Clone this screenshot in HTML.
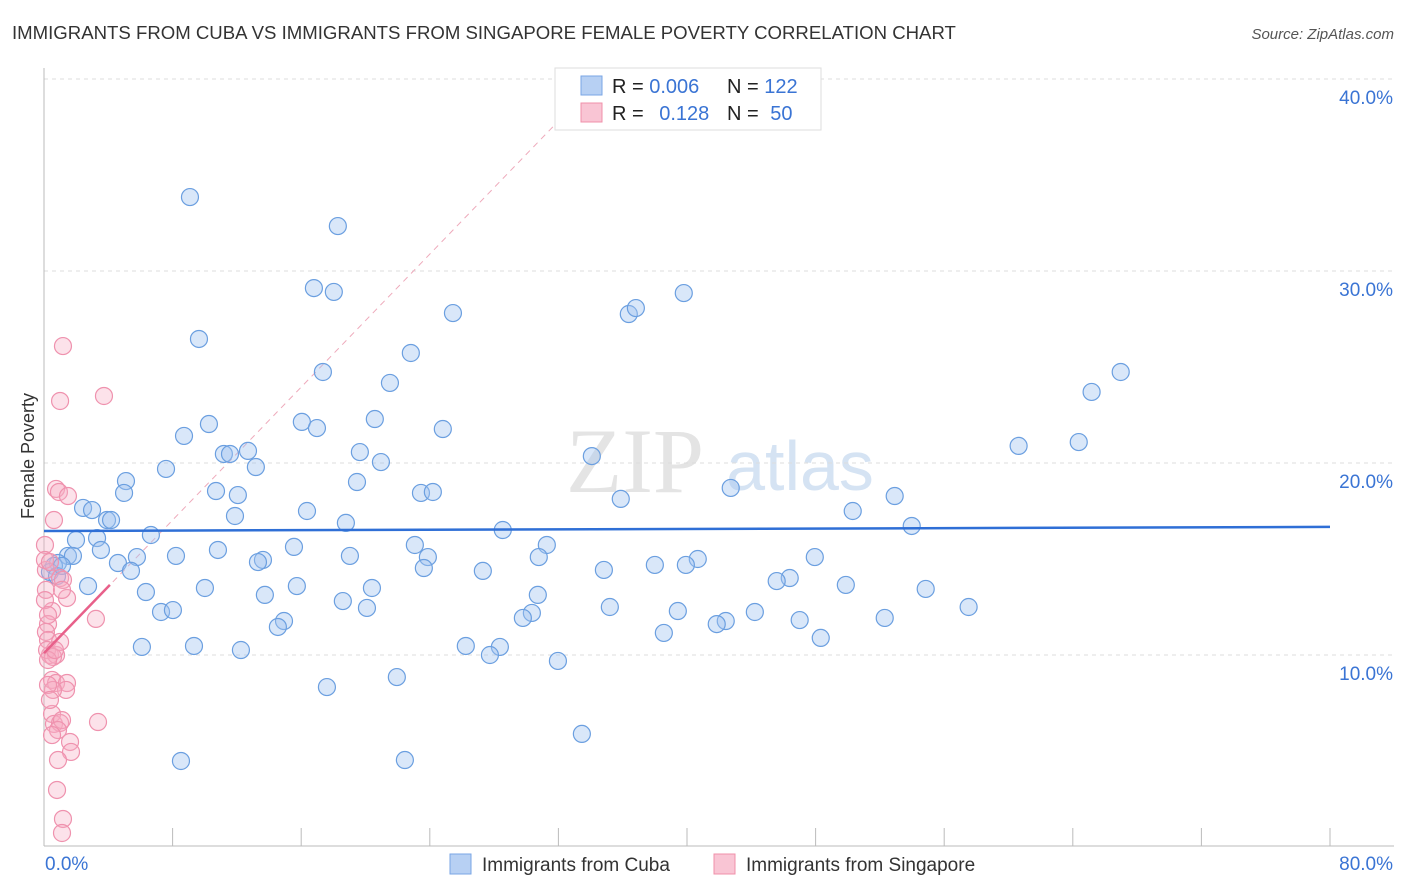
<!DOCTYPE html>
<html><head><meta charset="utf-8"><style>
body{margin:0;background:#fff;font-family:"Liberation Sans",sans-serif;}
svg{display:block}
</style></head><body>
<svg id="chart" width="1406" height="892" xmlns="http://www.w3.org/2000/svg">
<text x="12" y="39" font-size="18.6" fill="#333">IMMIGRANTS FROM CUBA VS IMMIGRANTS FROM SINGAPORE FEMALE POVERTY CORRELATION CHART</text>
<text x="1394" y="39" font-size="15" fill="#555" font-style="italic" text-anchor="end">Source: ZipAtlas.com</text>
<text x="34" y="456" font-size="18" fill="#333" text-anchor="middle" transform="rotate(-90 34 456)">Female Poverty</text>
<g><text x="635" y="492" font-size="92" fill="#e4e4e4" font-family="Liberation Serif,serif" text-anchor="middle">ZIP</text><text x="800" y="490" font-size="70" fill="#d5e3f3" text-anchor="middle">atlas</text></g>
<g id="grid"></g><g id="axes"></g><g id="marks"></g>
<g>
<rect x="555" y="68" width="266" height="62" fill="#fff" stroke="#ddd"/>
<rect x="581" y="76" width="21" height="19" fill="#b7d0f3" stroke="#7aa6e4"/>
<rect x="581" y="103" width="21" height="19" fill="#f9c5d4" stroke="#f090aa"/>
<text x="612" y="93" font-size="20" fill="#222">R = <tspan fill="#3a74d4">0.006</tspan></text>
<text x="727" y="93" font-size="20" fill="#222">N = <tspan fill="#3a74d4">122</tspan></text>
<text x="612" y="120" font-size="20" fill="#222">R = <tspan fill="#3a74d4" dx="10">0.128</tspan></text>
<text x="727" y="120" font-size="20" fill="#222">N = <tspan fill="#3a74d4" dx="6">50</tspan></text>
</g>
<g>
<rect x="450" y="854" width="21" height="20" fill="#b7d0f3" stroke="#7aa6e4"/>
<text x="482" y="871" font-size="19" fill="#333">Immigrants from Cuba</text>
<rect x="714" y="854" width="21" height="20" fill="#f9c5d4" stroke="#f090aa"/>
<text x="746" y="871" font-size="19" fill="#333">Immigrants from Singapore</text>
</g>
</svg>
<script>
const xTicks=[0,10,20,30,40,50,60,70,80];
const yTicks=[10,20,30,40];
const yTickLabels=["10.0%","20.0%","30.0%","40.0%"];
const xEndLabels=["0.0%","80.0%"];
const cubaX=[9.08,18.28,16.79,18.03,39.80,25.44,36.38,36.82,9.64,22.82,17.35,66.98,21.52,65.17,10.26,20.58,16.04,16.98,24.81,8.71,64.37,60.63,12.69,11.19,11.57,19.65,34.08,7.59,13.18,20.96,5.10,19.47,10.70,12.06,4.98,42.72,23.45,24.19,52.92,35.88,2.43,2.99,16.36,11.88,3.92,4.17,50.31,18.78,28.54,53.98,6.65,3.30,1.99,23.07,31.28,15.55,3.54,10.82,1.49,1.80,8.21,5.78,19.03,23.88,30.78,47.95,0.87,4.60,13.62,13.31,40.67,39.93,38.00,0.62,27.30,34.83,23.63,5.41,46.39,45.58,2.74,10.01,20.40,15.73,49.88,54.85,6.34,13.74,30.72,18.59,20.09,35.20,57.52,7.28,8.02,30.35,29.79,39.43,44.22,14.93,14.55,42.41,41.85,47.01,52.30,38.56,48.32,6.09,9.33,12.25,26.24,28.36,27.74,31.97,17.60,21.95,33.46,8.52,22.45,0.37,0.81,1.12];
const cubaY=[33.85,32.34,29.11,28.91,28.85,27.81,27.76,28.07,26.46,25.73,24.74,24.74,24.17,23.70,22.03,22.29,22.14,21.82,21.77,21.41,21.09,20.89,20.63,20.47,20.47,20.57,20.36,19.69,19.79,20.05,19.06,19.01,18.54,18.33,18.44,18.70,18.44,18.49,18.28,18.13,17.66,17.55,17.50,17.24,17.03,17.03,17.50,16.88,16.51,16.72,16.25,16.09,15.99,15.73,15.73,15.63,15.47,15.47,15.16,15.16,15.16,15.10,15.16,15.10,15.10,15.10,14.79,14.79,14.95,14.84,15.00,14.69,14.69,14.64,14.38,14.43,14.53,14.38,14.01,13.85,13.59,13.49,13.49,13.59,13.65,13.44,13.28,13.13,13.13,12.81,12.45,12.50,12.50,12.24,12.34,12.19,11.93,12.29,12.24,11.77,11.46,11.77,11.61,11.82,11.93,11.15,10.89,10.42,10.47,10.26,10.47,10.42,10.00,9.69,8.33,8.85,5.89,4.48,4.53,14.32,14.11,14.64];
const singX=[1.18,1.00,3.73,0.75,0.93,1.49,0.62,0.06,0.12,1.00,1.18,1.43,0.12,1.12,0.50,0.25,0.12,0.25,3.23,0.37,0.19,0.75,0.56,0.50,0.75,1.43,1.37,0.56,0.25,0.50,0.62,1.00,1.12,0.87,0.50,3.36,1.62,1.68,0.81,1.18,1.12,0.25,1.00,0.06,0.37,0.06,0.37,0.87,0.25,0.68];
const singY=[26.09,23.23,23.49,18.65,18.49,18.28,17.03,15.73,14.43,14.01,13.91,12.97,13.39,13.39,12.29,11.61,11.20,10.78,11.88,10.00,10.26,10.00,9.90,8.70,8.54,8.54,8.18,8.18,8.44,6.93,6.41,6.46,6.61,6.09,5.83,6.51,5.47,4.95,2.97,1.46,0.73,9.74,10.68,14.95,14.84,12.86,7.66,4.53,12.08,10.26];
const cubaTrend=[16.46,16.67];
const singTrend=[10.1,13.65];
const singTrendXMax=4.1;

const NS="http://www.w3.org/2000/svg";
const xs=v=>44+v*16.075;
const ys=v=>847-v*19.2;
function mk(tag,attrs,parent){const e=document.createElementNS(NS,tag);for(const k in attrs)e.setAttribute(k,attrs[k]);document.getElementById(parent).appendChild(e);return e;}

yTicks.forEach((t,i)=>{
  const g=mk('line',{x1:44,x2:1394,y1:ys(t),y2:ys(t),stroke:'#ddd','stroke-dasharray':'4,4'},'grid');
  
  
  const l=mk('text',{x:1393,y:ys(t)+25,'font-size':19,fill:'#3a74d4','text-anchor':'end'},'axes');
  l.textContent=yTickLabels[i];
  
  
});
const ax=mk('line',{x1:44,x2:44,y1:68,y2:846,stroke:'#bbb'},'axes');


const bx=mk('line',{x1:44,x2:1394,y1:846,y2:846,stroke:'#bbb'},'axes');


for(let i=0;i<=10;i++){const v=i*8;
  const tk=mk('line',{x1:xs(v),x2:xs(v),y1:828,y2:846,stroke:'#bbb'},'axes');
  
  
}
[[0,'start',45],[80,'end',1393]].forEach((a,i)=>{
  const l=mk('text',{x:a[2],y:870,'font-size':19,fill:'#3a74d4','text-anchor':a[1]},'axes');
  l.textContent=xEndLabels[i];
  
  
});
const slope=(singTrend[1]-singTrend[0])/singTrendXMax;
const yTop=40.3;
const xEnd=(yTop-singTrend[0])/slope;
const dl=mk('line',{x1:xs(0),y1:ys(singTrend[0]),x2:xs(xEnd),y2:ys(yTop),stroke:'#eeaabb','stroke-dasharray':'6,5','stroke-width':1},'marks');


cubaX.forEach((x,i)=>{
  const c=mk('circle',{cx:xs(x),cy:ys(cubaY[i]),r:8.5,fill:'rgba(160,196,240,0.4)',stroke:'#6b9fe0','stroke-width':1.2},'marks');
  
  
});
singX.forEach((x,i)=>{
  const c=mk('circle',{cx:xs(x),cy:ys(singY[i]),r:8.5,fill:'rgba(245,172,194,0.35)',stroke:'#ef92ae','stroke-width':1.2},'marks');
  
  
});
const bt=mk('line',{x1:xs(0),y1:ys(cubaTrend[0]),x2:xs(80),y2:ys(cubaTrend[1]),stroke:'#2f6fd6','stroke-width':2.5},'marks');


const pt=mk('line',{x1:xs(0),y1:ys(singTrend[0]),x2:xs(singTrendXMax),y2:ys(singTrend[1]),stroke:'#e8608a','stroke-width':2.5},'marks');


</script>
</body></html>
